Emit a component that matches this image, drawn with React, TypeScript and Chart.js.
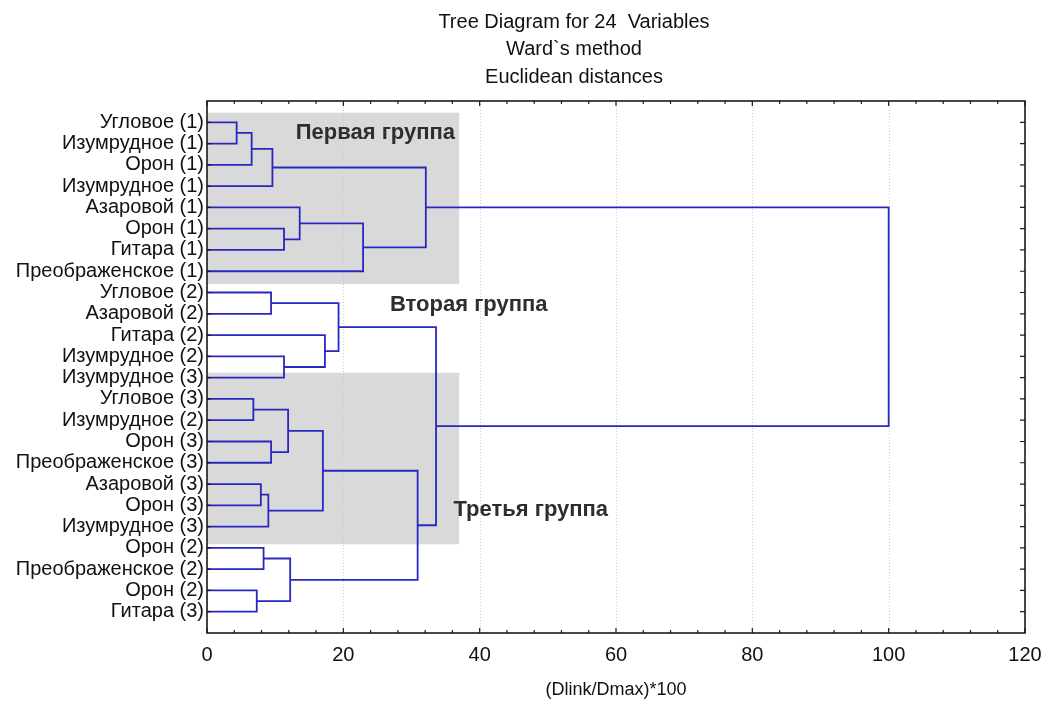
import React, { useEffect, useRef } from "react";
import { Chart, registerables } from "chart.js";

Chart.register(...registerables);

// ---- Data ----
const rowLabels = [
  "Угловое (1)",
  "Изумрудное (1)",
  "Орон (1)",
  "Изумрудное (1)",
  "Азаровой (1)",
  "Орон (1)",
  "Гитара (1)",
  "Преображенское (1)",
  "Угловое (2)",
  "Азаровой (2)",
  "Гитара (2)",
  "Изумрудное (2)",
  "Изумрудное (3)",
  "Угловое (3)",
  "Изумрудное (2)",
  "Орон (3)",
  "Преображенское (3)",
  "Азаровой (3)",
  "Орон (3)",
  "Изумрудное (3)",
  "Орон (2)",
  "Преображенское (2)",
  "Орон (2)",
  "Гитара (3)",
];

// merge i creates node (24 + i) from child nodes mergeA[i], mergeB[i]
const mergeA = [0, 24, 25, 5, 4, 28, 26, 8, 11, 10, 31, 13, 15, 35, 17, 38, 37, 20, 22, 41, 40, 34, 30];
const mergeB = [1, 2, 3, 6, 27, 7, 29, 9, 12, 32, 33, 14, 16, 36, 18, 19, 39, 21, 23, 42, 43, 44, 45];
const mergeHeight = [4.35, 6.55, 9.6, 11.3, 13.6, 22.9, 32.1, 9.4, 11.3, 17.3, 19.3, 6.8, 9.4, 11.9, 7.9, 9.0, 17.0, 8.3, 7.3, 12.2, 30.9, 33.6, 100];

const xTicks = [0, 20, 40, 60, 80, 100, 120];

const groupNames = ["Первая группа", "Вторая группа", "Третья группа"];
const groupLabelX = [24.7, 38.4, 47.5];
const groupLabelY = [1.52, 9.58, 19.24];

const boxXMax = [37, 37];
const boxYTop = [0.55, 12.77];
const boxYBottom = [8.6, 20.83];

const titleLines = ["Tree Diagram for 24  Variables", "Ward`s method", "Euclidean distances"];
const xAxisTitle = "(Dlink/Dmax)*100";

// ---- Build dendrogram segments ----
function buildDatasets() {
  const nodeX: number[] = [];
  const nodeY: number[] = [];
  rowLabels.forEach((_, i) => {
    nodeX.push(0);
    nodeY.push(i + 1);
  });
  const sets: any[] = [];
  mergeA.forEach((a, i) => {
    const b = mergeB[i];
    const h = mergeHeight[i];
    sets.push({
      data: [
        { x: nodeX[a], y: nodeY[a] },
        { x: h, y: nodeY[a] },
        { x: h, y: nodeY[b] },
        { x: nodeX[b], y: nodeY[b] },
      ],
      showLine: true,
      borderColor: "#2828c0",
      borderWidth: 1.8,
      pointRadius: 0,
      fill: false,
      tension: 0,
    });
    nodeX.push(h);
    nodeY.push((nodeY[a] + nodeY[b]) / 2);
  });
  return sets;
}

const FONT = "'Liberation Sans', Arial, sans-serif";

const decorPlugin = {
  id: "decor",
  beforeDatasetsDraw(chart: any) {
    const { ctx, chartArea } = chart;
    const xs = chart.scales.x;
    const ys = chart.scales.y;
    ctx.save();
    // gray group boxes
    ctx.fillStyle = "#d9d9d9";
    boxXMax.forEach((xm, i) => {
      const x0 = xs.getPixelForValue(0);
      const x1 = xs.getPixelForValue(xm);
      const y0 = ys.getPixelForValue(boxYTop[i]);
      const y1 = ys.getPixelForValue(boxYBottom[i]);
      ctx.fillRect(x0, y0, x1 - x0, y1 - y0);
    });
    // dotted vertical grid lines
    ctx.strokeStyle = "#cccccc";
    ctx.lineWidth = 1;
    ctx.setLineDash([1, 2]);
    xTicks.forEach((v) => {
      const px = Math.round(xs.getPixelForValue(v)) + 0.5;
      ctx.beginPath();
      ctx.moveTo(px, chartArea.top);
      ctx.lineTo(px, chartArea.bottom);
      ctx.stroke();
    });
    ctx.setLineDash([]);
    ctx.restore();
  },
  afterDatasetsDraw(chart: any) {
    const { ctx, chartArea } = chart;
    const xs = chart.scales.x;
    const ys = chart.scales.y;
    const { left, right, top, bottom } = chartArea;
    ctx.save();
    // frame
    ctx.strokeStyle = "#1a1a1a";
    ctx.lineWidth = 1.6;
    ctx.strokeRect(left, top, right - left, bottom - top);
    // x ticks (inward), major + minor
    ctx.lineWidth = 1.2;
    for (let v = 0; v <= 120; v += 4) {
      const px = xs.getPixelForValue(v);
      const len = v % 20 === 0 ? 5 : 3;
      ctx.beginPath();
      ctx.moveTo(px, bottom);
      ctx.lineTo(px, bottom - len);
      ctx.moveTo(px, top);
      ctx.lineTo(px, top + len);
      ctx.stroke();
    }
    // y ticks (inward) left & right
    rowLabels.forEach((_, i) => {
      const py = ys.getPixelForValue(i + 1);
      ctx.beginPath();
      ctx.moveTo(left, py);
      ctx.lineTo(left + 4, py);
      ctx.moveTo(right, py);
      ctx.lineTo(right - 5, py);
      ctx.stroke();
    });
    // group annotations
    ctx.fillStyle = "#2e2e2e";
    ctx.font = `bold 22px ${FONT}`;
    ctx.textAlign = "center";
    ctx.textBaseline = "middle";
    groupNames.forEach((name, i) => {
      ctx.fillText(name, xs.getPixelForValue(groupLabelX[i]), ys.getPixelForValue(groupLabelY[i]));
    });
    ctx.restore();
  },
  afterDraw(chart: any) {
    const { ctx } = chart;
    ctx.save();
    ctx.fillStyle = "#111";
    ctx.font = `20px ${FONT}`;
    ctx.textAlign = "center";
    ctx.textBaseline = "middle";
    titleLines.forEach((line, i) => {
      ctx.fillText(line, 574, 22 + i * 27.5);
    });
    ctx.restore();
  },
};

export default function App() {
  const canvasRef = useRef<HTMLCanvasElement | null>(null);

  useEffect(() => {
    if (!canvasRef.current) return;
    const chart = new Chart(canvasRef.current, {
      type: "scatter",
      data: { datasets: buildDatasets() },
      options: {
        responsive: false,
        animation: false,
        layout: { padding: { left: 0, right: 19, top: 101, bottom: 0 } },
        plugins: {
          legend: { display: false },
          tooltip: { enabled: false },
          title: { display: false },
        },
        scales: {
          x: {
            type: "linear",
            position: "bottom",
            min: 0,
            max: 120,
            afterBuildTicks: (scale: any) => {
              scale.ticks = xTicks.map((v) => ({ value: v }));
            },
            afterFit: (scale: any) => {
              scale.height = 69;
              scale.paddingLeft = 0;
              scale.paddingRight = 0;
            },
            grid: { display: false, drawTicks: false },
            border: { display: false },
            ticks: {
              color: "#111",
              font: { family: FONT, size: 20 },
              padding: 10,
              maxRotation: 0,
              autoSkip: false,
            },
            title: {
              display: true,
              text: xAxisTitle,
              color: "#111",
              font: { family: FONT, size: 18 },
              padding: { top: 0, bottom: 1 },
            },
          },
          y: {
            type: "linear",
            position: "left",
            min: 0,
            max: 25,
            reverse: true,
            afterBuildTicks: (scale: any) => {
              scale.ticks = rowLabels.map((_, i) => ({ value: i + 1 }));
            },
            afterFit: (scale: any) => {
              scale.width = 207;
              scale.paddingTop = 0;
              scale.paddingBottom = 0;
            },
            grid: { display: false, drawTicks: false },
            border: { display: false },
            ticks: {
              color: "#111",
              font: { family: FONT, size: 20 },
              padding: 3,
              autoSkip: false,
              callback: (v: any) => rowLabels[Math.round(Number(v)) - 1] ?? "",
            },
          },
        },
      },
      plugins: [decorPlugin],
    });
    return () => chart.destroy();
  }, []);

  return (
    <div style={{ position: "absolute", left: 0, top: 0, width: 1044, height: 702, background: "#fff" }}>
      <canvas ref={canvasRef} width={1044} height={702} style={{ display: "block" }} />
    </div>
  );
}
